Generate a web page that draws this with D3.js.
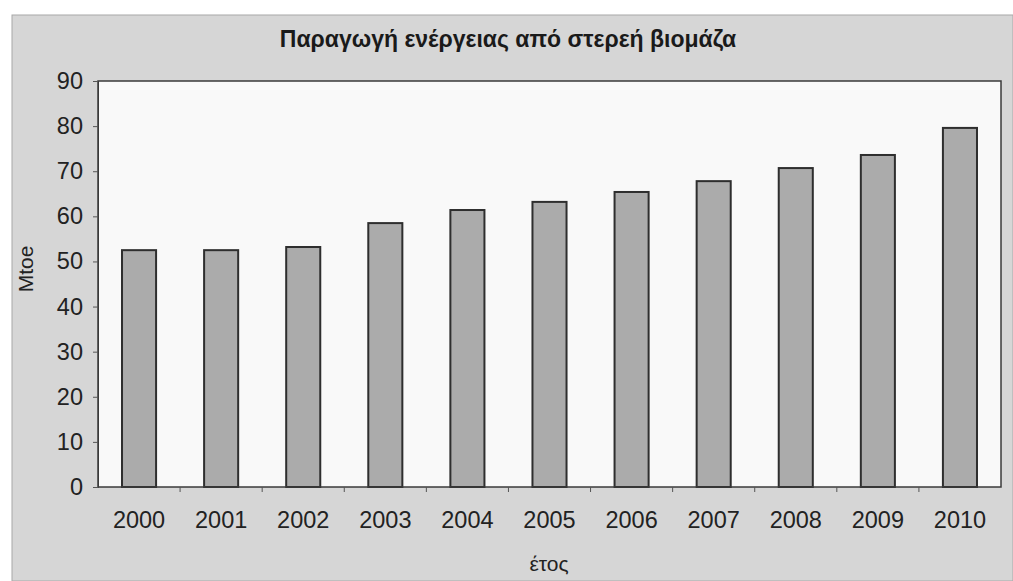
<!DOCTYPE html>
<html><head><meta charset="utf-8">
<script src="https://cdn.jsdelivr.net/npm/d3@7"></script>
<style>html,body{margin:0;padding:0;background:#fff;}svg{display:block;}</style>
</head><body>
<svg id="chart" width="1013" height="581"></svg>
<script>
const title = "Παραγωγή ενέργειας από στερεή βιομάζα";
const years = ["2000","2001","2002","2003","2004","2005","2006","2007","2008","2009","2010"];
const values = [52.5, 52.5, 53.2, 58.5, 61.4, 63.2, 65.4, 67.8, 70.7, 73.6, 79.6];
const yTicks = [0,10,20,30,40,50,60,70,80,90];
const yLabel = "Mtoe";
const xLabel = "έτος";

const svg = d3.select("#chart");
const font = "'Liberation Sans', Arial, sans-serif";
const plot = {left: 98, top: 81, right: 1001, bottom: 487};

// outer chart area
svg.append("rect").attr("x", 12).attr("y", 15).attr("width", 1013 - 12).attr("height", 581 - 15)
  .attr("fill", "#d6d6d6").attr("stroke", "#a8a8a8").attr("stroke-width", 1);

// plot area
svg.append("rect").attr("x", plot.left).attr("y", plot.top)
  .attr("width", plot.right - plot.left).attr("height", plot.bottom - plot.top)
  .attr("fill", "#f9f9f9");

const x = d3.scaleBand().domain(years).range([plot.left, plot.right])
  .paddingInner(0.585).paddingOuter(0.2925);
const y = d3.scaleLinear().domain([0, 90]).range([plot.bottom, plot.top]);

// bars
svg.append("g").selectAll("rect").data(years).join("rect")
  .attr("x", d => x(d)).attr("width", x.bandwidth())
  .attr("y", (d, i) => y(values[i])).attr("height", (d, i) => y(0) - y(values[i]))
  .attr("fill", "#ababab").attr("stroke", "#2e2e2e").attr("stroke-width", 2);

// plot border
svg.append("rect").attr("x", plot.left).attr("y", plot.top)
  .attr("width", plot.right - plot.left).attr("height", plot.bottom - plot.top)
  .attr("fill", "none").attr("stroke", "#3a3a3a").attr("stroke-width", 1.5);

// y axis
const yAxis = d3.axisLeft(y).tickValues(yTicks).tickSize(5).tickPadding(10);
const gy = svg.append("g").attr("transform", `translate(${plot.left},0)`).call(yAxis);
gy.select(".domain").attr("stroke", "#3a3a3a");
gy.selectAll(".tick line").attr("stroke", "#555");
gy.selectAll("text").attr("font-family", font).attr("font-size", 23.5).attr("fill", "#222");

// x axis: labels centered, ticks at band boundaries
const xAxis = d3.axisBottom(x).tickSize(0).tickPadding(24);
const gx = svg.append("g").attr("transform", `translate(0,${plot.bottom})`).call(xAxis);
gx.select(".domain").remove();
gx.selectAll("text").attr("font-family", font).attr("font-size", 23.5).attr("fill", "#222");
const step = x.step();
svg.append("g").selectAll("line").data(years.slice(1)).join("line")
  .attr("x1", d => x(d) - step * x.paddingInner() / 2)
  .attr("x2", d => x(d) - step * x.paddingInner() / 2)
  .attr("y1", plot.bottom).attr("y2", plot.bottom + 5)
  .attr("stroke", "#555").attr("stroke-width", 1);

// title
svg.append("text").attr("x", 508).attr("y", 47).attr("text-anchor", "middle")
  .attr("font-family", font).attr("font-size", 23).attr("font-weight", "bold")
  .attr("fill", "#1a1a1a").text(title);

// axis titles
svg.append("text").attr("transform", "translate(33,269) rotate(-90)").attr("text-anchor", "middle")
  .attr("font-family", font).attr("font-size", 21).attr("fill", "#222").text(yLabel);
svg.append("text").attr("x", 549).attr("y", 571).attr("text-anchor", "middle")
  .attr("font-family", font).attr("font-size", 21).attr("fill", "#222").text(xLabel);
</script>
</body></html>
